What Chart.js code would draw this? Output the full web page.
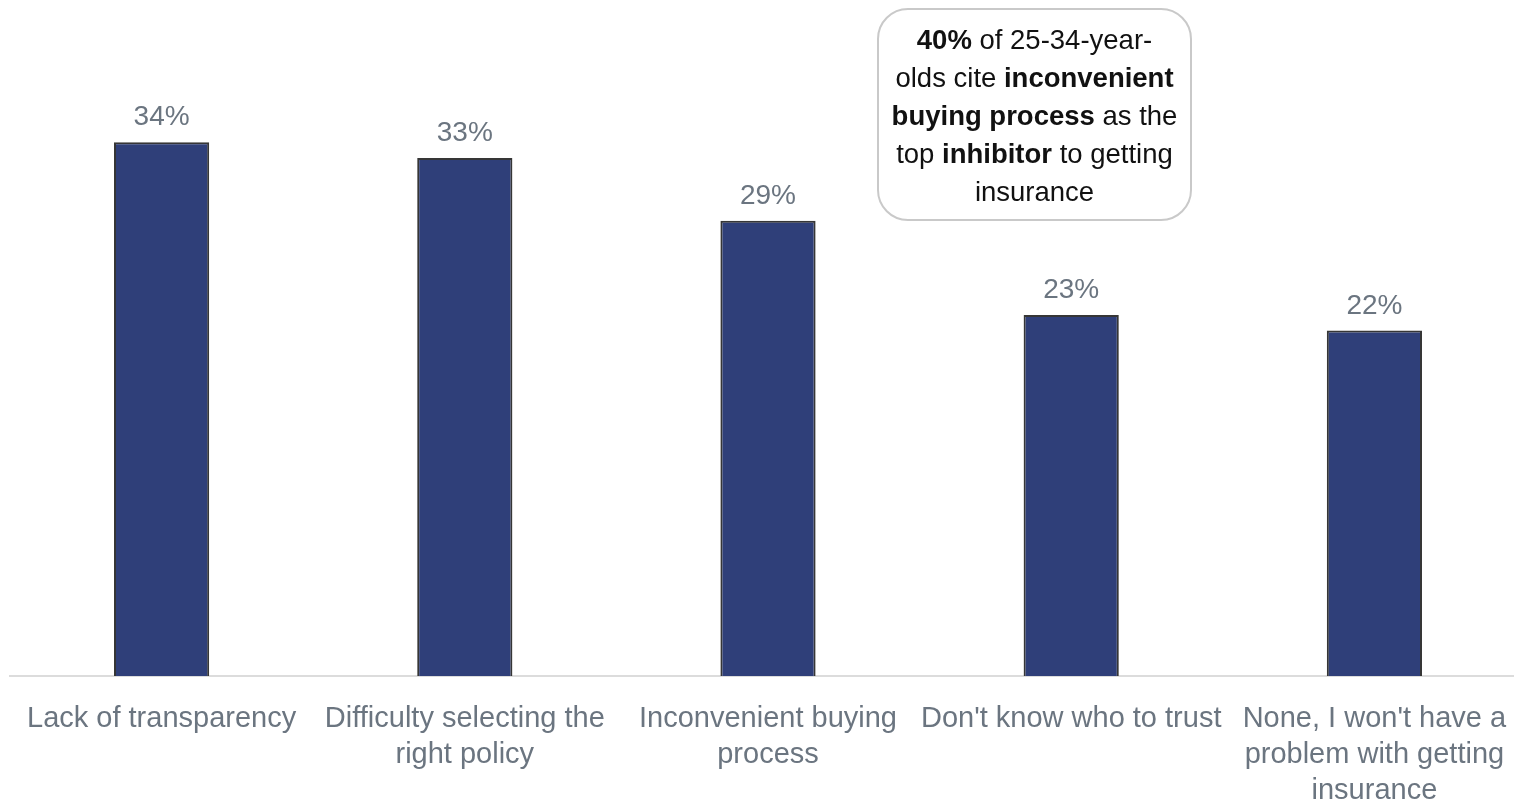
<!DOCTYPE html>
<html>
<head>
<meta charset="utf-8">
<script src="https://cdn.jsdelivr.net/npm/chart.js@4.4.1/dist/chart.umd.min.js"></script>
<style>
  html, body { margin: 0; padding: 0; background: #ffffff; overflow: hidden; }
  #wrap { position: relative; width: 1526px; height: 801px; }
</style>
</head>
<body>
<div id="wrap"><canvas id="chart"></canvas></div>
<script>
// Reasons given for not getting insurance (% of respondents)
const categories = [
  ["Lack of transparency"],
  ["Difficulty selecting the", "right policy"],
  ["Inconvenient buying", "process"],
  ["Don't know who to trust"],
  ["None, I won't have a", "problem with getting", "insurance"]
];
const shares = [34, 33, 29, 23, 22];
const valueLabels = ["34%", "33%", "29%", "23%", "22%"];

// Callout text, split into runs of [text, bold]
const calloutLines = [
  [["40%", true], [" of 25-34-year-", false]],
  [["olds cite ", false], ["inconvenient", true]],
  [["buying process", true], [" as the", false]],
  [["top ", false], ["inhibitor", true], [" to getting", false]],
  [["insurance", false]]
];

const FONT = "'Liberation Sans', Arial, sans-serif";
const GREY_TEXT = "#6b7580";

const valueLabelPlugin = {
  id: 'valueLabels',
  afterDatasetsDraw(chart) {
    const ctx = chart.ctx;
    const meta = chart.getDatasetMeta(0);
    ctx.save();
    ctx.font = "28px " + FONT;
    ctx.fillStyle = GREY_TEXT;
    ctx.textAlign = 'center';
    ctx.textBaseline = 'alphabetic';
    meta.data.forEach((bar, i) => {
      ctx.fillText(valueLabels[i], bar.x, bar.y - 17);
    });
    ctx.restore();
  }
};

const calloutPlugin = {
  id: 'callout',
  afterDraw(chart) {
    const ctx = chart.ctx;
    const x = 878, y = 9, w = 313, h = 211, r = 30;
    ctx.save();
    ctx.beginPath();
    ctx.roundRect(x, y, w, h, r);
    ctx.fillStyle = '#ffffff';
    ctx.fill();
    ctx.lineWidth = 2;
    ctx.strokeStyle = '#c9c9c9';
    ctx.stroke();

    const cx = x + w / 2;
    const lineH = 38;
    const firstY = 41;
    const size = 27.5;
    ctx.textBaseline = 'middle';
    ctx.fillStyle = '#111111';
    calloutLines.forEach((runs, li) => {
      let total = 0;
      const widths = runs.map(([t, b]) => {
        ctx.font = (b ? 'bold ' : '') + size + 'px ' + FONT;
        const m = ctx.measureText(t).width;
        total += m;
        return m;
      });
      let px = cx - total / 2;
      runs.forEach(([t, b], ri) => {
        ctx.font = (b ? 'bold ' : '') + size + 'px ' + FONT;
        ctx.textAlign = 'left';
        ctx.fillText(t, px, firstY + li * lineH);
        px += widths[ri];
      });
    });
    ctx.restore();
  }
};

new Chart(document.getElementById('chart'), {
  type: 'bar',
  data: {
    labels: categories,
    datasets: [{
      data: shares,
      backgroundColor: '#2f3f79',
      borderColor: '#363636',
      borderWidth: 2,
      borderSkipped: 'bottom',
      categoryPercentage: 1.0,
      barPercentage: 0.314
    }]
  },
  options: {
    responsive: true,
    maintainAspectRatio: false,
    animation: false,
    layout: { padding: { left: 10, right: 0, top: 48, bottom: 0 } },
    plugins: {
      legend: { display: false },
      tooltip: { enabled: false }
    },
    scales: {
      x: {
        grid: { display: false, drawTicks: false },
        border: { display: true, color: '#dcdcdc', width: 2 },
        ticks: {
          color: GREY_TEXT,
          font: { family: FONT, size: 29, lineHeight: 1.24 },
          padding: 25,
          maxRotation: 0,
          autoSkip: false
        },
        afterFit(scale) {
          scale.height = 125;
          scale.paddingLeft = 0;
          scale.paddingRight = 0;
        }
      },
      y: {
        display: false,
        min: 0,
        max: 40
      }
    }
  },
  plugins: [valueLabelPlugin, calloutPlugin]
});
</script>
</body>
</html>
